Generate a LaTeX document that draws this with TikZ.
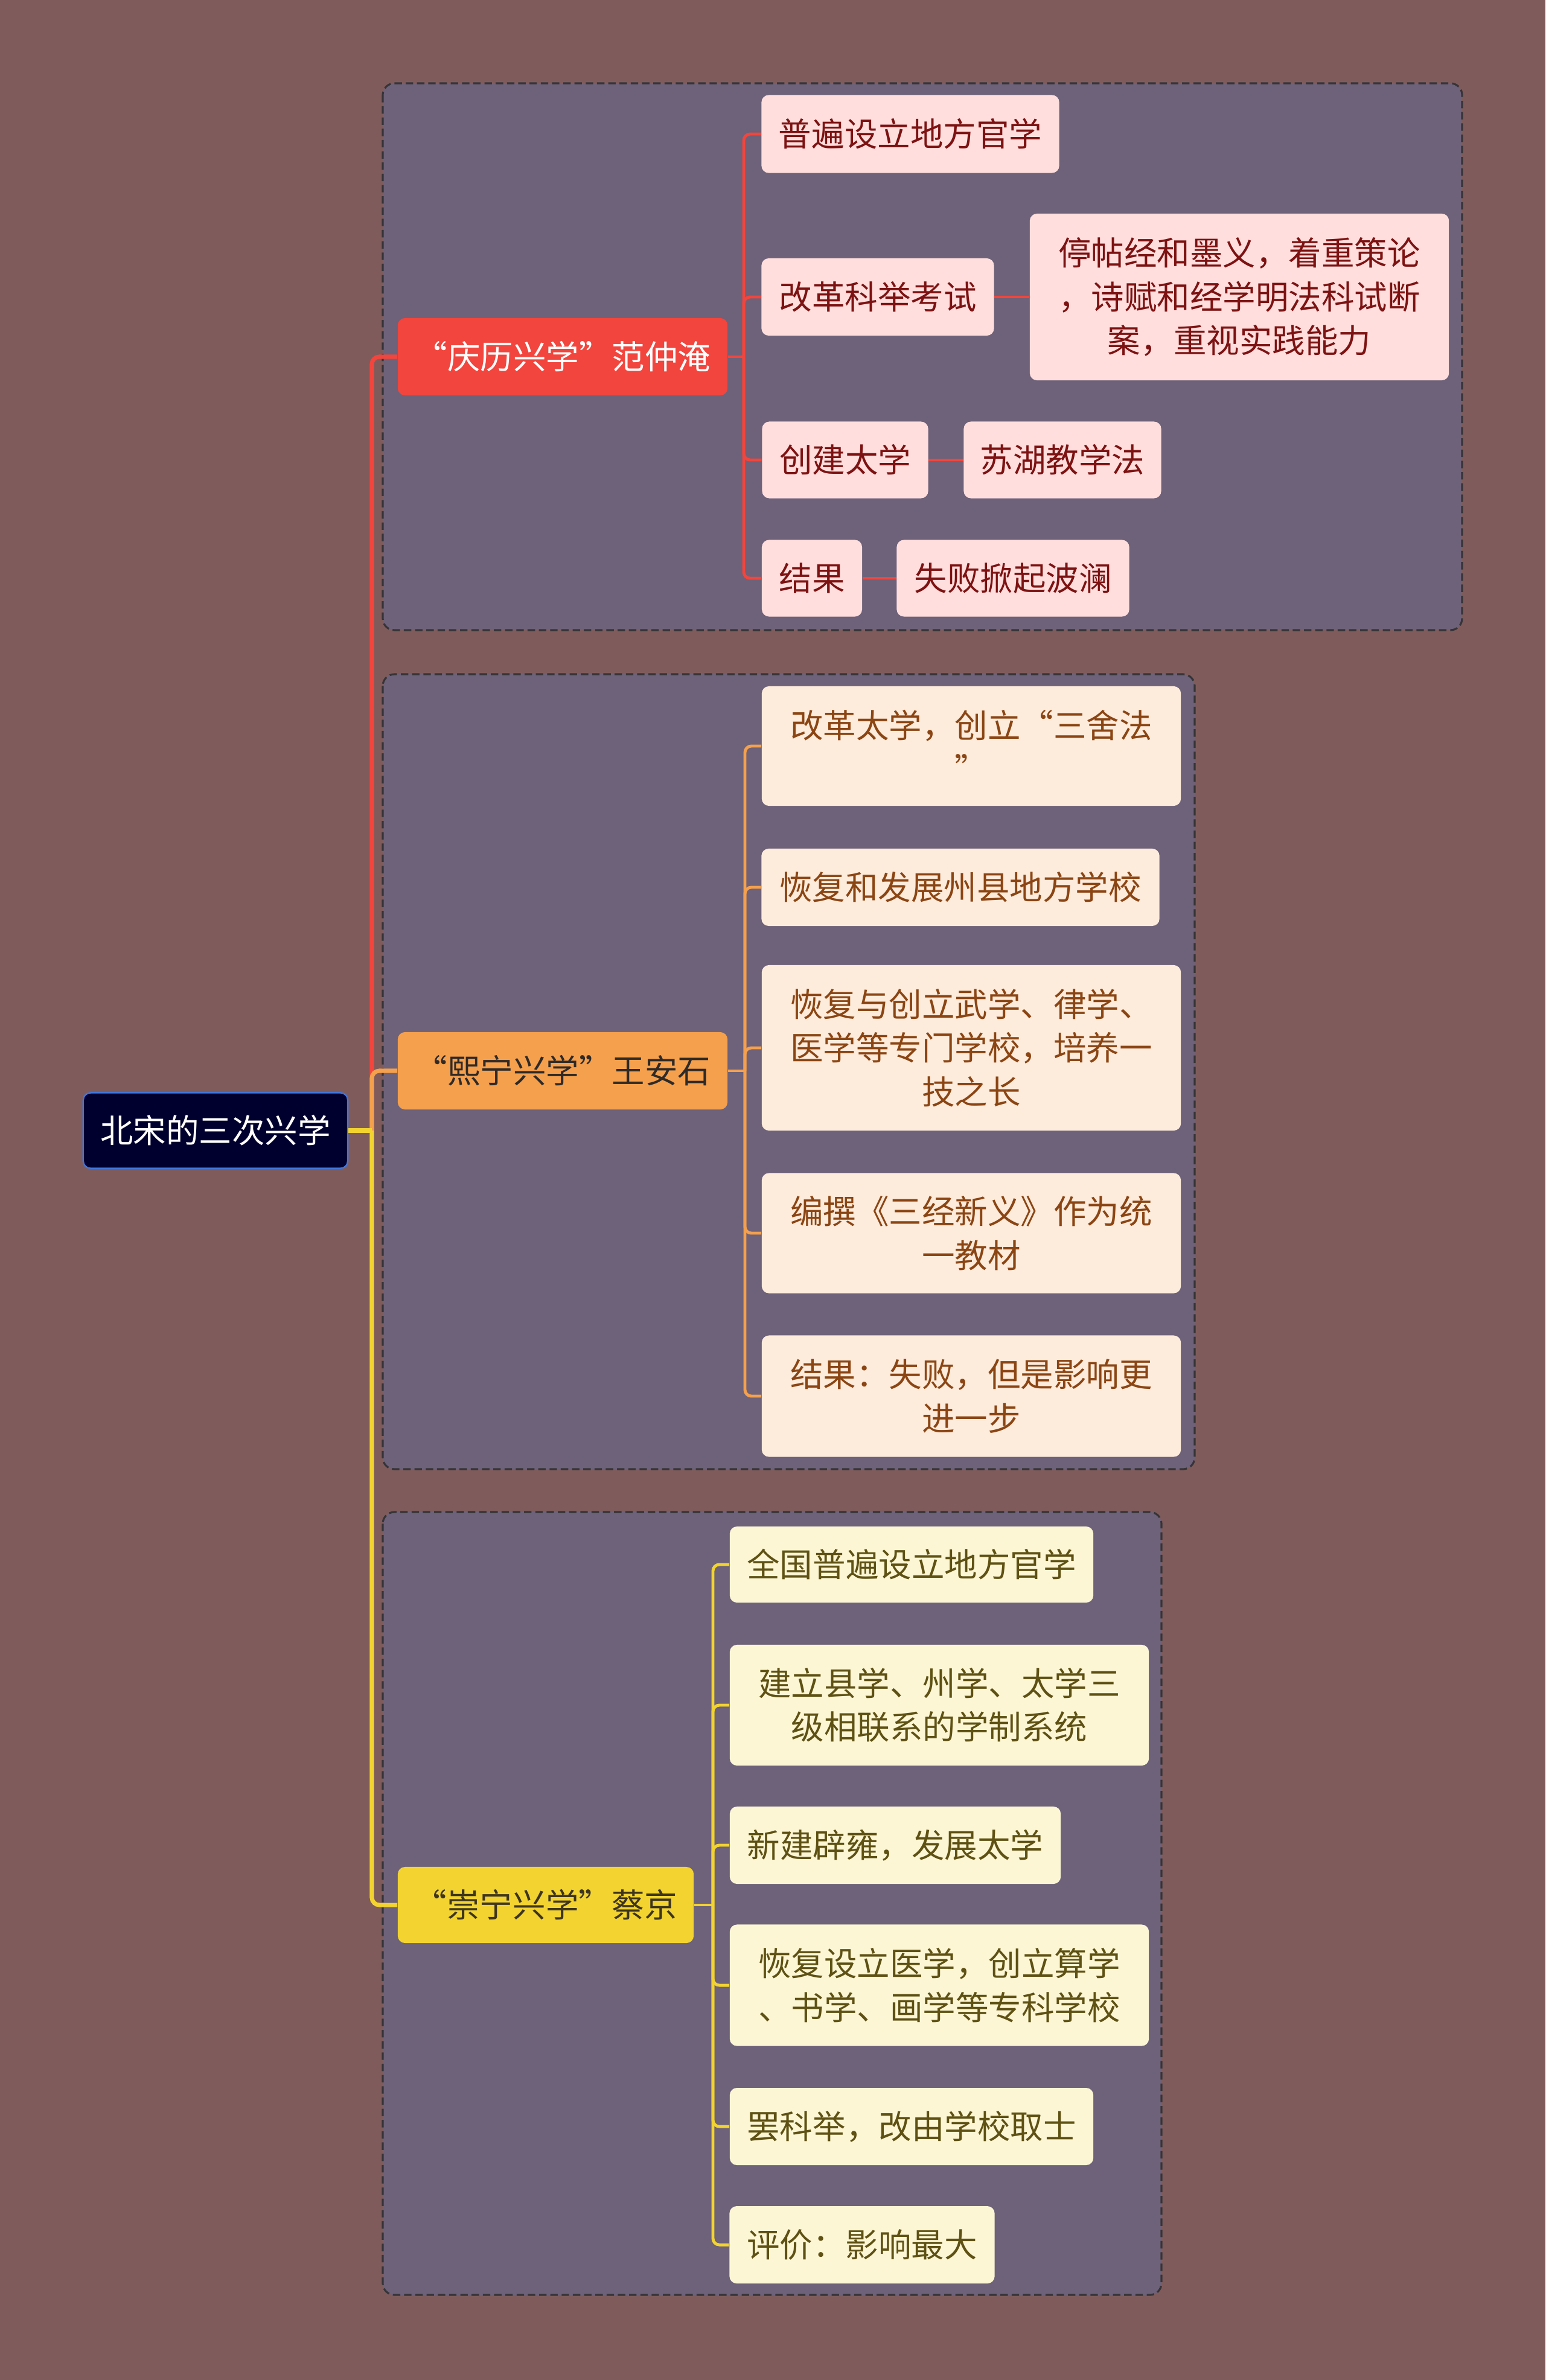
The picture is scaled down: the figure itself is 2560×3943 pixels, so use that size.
\documentclass[tikz,border=0pt]{standalone}
\usepackage{fontspec}
\usepackage{xcolor}
\usepackage{tikz}
\newfontfamily\cjk{Noto Sans CJK SC}
\definecolor{BXBack}{HTML}{7F5C5B}
\definecolor{BXPanel}{HTML}{6D6279}
\definecolor{BXDash}{HTML}{363438}
\definecolor{BXRoot}{HTML}{00002E}
\definecolor{BXRootEdge}{HTML}{4275D8}
\definecolor{BXRed}{HTML}{F2453D}
\definecolor{BXRedLeaf}{HTML}{FFDEDD}
\definecolor{BXRedText}{HTML}{7D1212}
\definecolor{BXOrange}{HTML}{F5A04D}
\definecolor{BXOrangeLeaf}{HTML}{FDEBDB}
\definecolor{BXOrangeText}{HTML}{8B4513}
\definecolor{BXOrangeHead}{HTML}{2E2A28}
\definecolor{BXYellow}{HTML}{F2D330}
\definecolor{BXYellowLeaf}{HTML}{FCF6D5}
\definecolor{BXYellowText}{HTML}{5E5113}
\definecolor{BXYellowHead}{HTML}{3D3520}

\tikzset{
  box/.style={rounded corners=3.4pt, inner sep=0pt, align=center,
    font=\cjk\fontsize{15.5}{20.6}\selectfont},
  rootbox/.style={box, fill=BXRoot, draw=BXRootEdge, line width=0.7pt, text=white},
  redhead/.style={box, fill=BXRed, text=white},
  redleaf/.style={box, fill=BXRedLeaf, text=BXRedText},
  orangehead/.style={box, fill=BXOrange, text=BXOrangeHead},
  orangeleaf/.style={box, fill=BXOrangeLeaf, text=BXOrangeText},
  yellowhead/.style={box, fill=BXYellow, text=BXYellowHead},
  yellowleaf/.style={box, fill=BXYellowLeaf, text=BXYellowText},
  panel/.style={draw=BXDash, fill=BXPanel, line width=0.9pt,
    dash pattern=on 3.5pt off 1.8pt, rounded corners=5.5pt},
  trunk/.style={line width=2pt, rounded corners=3.5pt},
  twig/.style={line width=1.4pt, rounded corners=3pt}
}

\begin{document}
\begin{tikzpicture}[x=0.01cm,y=-0.01cm]
\path[use as bounding box, fill=BXBack] (0,0) rectangle (2560,3943);

% panels
\draw[panel] (634,138) rectangle (2422,1044);
\draw[panel] (634,1117) rectangle (1979,2434);
\draw[panel] (634,2505) rectangle (1924,3802);

% root
\node[rootbox, minimum width=4.38cm, minimum height=1.25cm] (root) at (357,1873) {北宋的三次兴学};

% first branch
\node[redhead, minimum width=5.46cm, minimum height=1.28cm] (qingli) at (932,591) {“庆历兴学”范仲淹};
\node[redleaf, minimum width=4.93cm, minimum height=1.29cm] (qlA) at (1508,222) {普遍设立地方官学};
\node[redleaf, minimum width=3.85cm, minimum height=1.28cm] (qlB) at (1454,492) {改革科举考试};
\node[redleaf, minimum width=6.94cm, minimum height=2.76cm] (qlBx) at (2053,492) {停帖经和墨义，着重策论\\，诗赋和经学明法科试断\\案，重视实践能力};
\node[redleaf, minimum width=2.75cm, minimum height=1.27cm] (qlC) at (1400,762) {创建太学};
\node[redleaf, minimum width=3.27cm, minimum height=1.27cm] (qlCx) at (1760,762) {苏湖教学法};
\node[redleaf, minimum width=1.66cm, minimum height=1.27cm] (qlD) at (1345,958) {结果};
\node[redleaf, minimum width=3.85cm, minimum height=1.27cm] (qlDx) at (1678,958) {失败掀起波澜};

% second branch
\node[orangehead, minimum width=5.46cm, minimum height=1.28cm] (xining) at (932,1774) {“熙宁兴学”王安石};
\node[orangeleaf, minimum width=6.94cm, minimum height=1.98cm] (xnA) at (1609,1236) {改革太学，创立“三舍法\\”};
\node[orangeleaf, minimum width=6.59cm, minimum height=1.28cm] (xnB) at (1591,1470) {恢复和发展州县地方学校};
\node[orangeleaf, minimum width=6.94cm, minimum height=2.74cm] (xnC) at (1609,1736) {恢复与创立武学、律学、\\医学等专门学校，培养一\\技之长};
\node[orangeleaf, minimum width=6.94cm, minimum height=1.99cm] (xnD) at (1609,2043) {编撰《三经新义》作为统\\一教材};
\node[orangeleaf, minimum width=6.94cm, minimum height=2.01cm] (xnE) at (1609,2313) {结果：失败，但是影响更\\进一步};

% third branch
\node[yellowhead, minimum width=4.90cm, minimum height=1.26cm] (chongning) at (904,3156) {“崇宁兴学”蔡京};
\node[yellowleaf, minimum width=6.02cm, minimum height=1.26cm] (cnA) at (1510,2592) {全国普遍设立地方官学};
\node[yellowleaf, minimum width=6.94cm, minimum height=2.00cm] (cnB) at (1556,2825) {建立县学、州学、太学三\\级相联系的学制系统};
\node[yellowleaf, minimum width=5.48cm, minimum height=1.28cm] (cnC) at (1483,3057) {新建辟雍，发展太学};
\node[yellowleaf, minimum width=6.94cm, minimum height=2.01cm] (cnD) at (1556,3289) {恢复设立医学，创立算学\\、书学、画学等专科学校};
\node[yellowleaf, minimum width=6.02cm, minimum height=1.28cm] (cnE) at (1510,3523) {罢科举，改由学校取士};
\node[yellowleaf, minimum width=4.39cm, minimum height=1.28cm] (cnF) at (1428,3719) {评价：影响最大};

% hubs
\coordinate (hub) at (616,1873);
\coordinate (qlHub) at (1232,591);
\coordinate (xnHub) at (1234,1774);
\coordinate (cnHub) at (1181,3156);

% root connectors
\draw[trunk, BXRed] (hub) |- (qingli.west);
\draw[trunk, BXOrange] (hub) |- (xining.west);
\draw[trunk, BXYellow] (hub) |- (chongning.west);
\draw[trunk, BXYellow] (root.east) -- (hub);

% branch connectors
\draw[twig, BXRed] (qingli.east) -- (qlHub);
\foreach \n in {qlA,qlB,qlC,qlD}
  \draw[twig, BXRed] (qlHub) |- (\n.west);
\draw[twig, BXRed] (qlB.east) -- (qlBx.west);
\draw[twig, BXRed] (qlC.east) -- (qlCx.west);
\draw[twig, BXRed] (qlD.east) -- (qlDx.west);

\draw[twig, BXOrange] (xining.east) -- (xnHub);
\foreach \n in {xnA,xnB,xnC,xnD,xnE}
  \draw[twig, BXOrange] (xnHub) |- (\n.west);

\draw[twig, BXYellow] (chongning.east) -- (cnHub);
\foreach \n in {cnA,cnB,cnC,cnD,cnE,cnF}
  \draw[twig, BXYellow] (cnHub) |- (\n.west);
\end{tikzpicture}
\end{document}
